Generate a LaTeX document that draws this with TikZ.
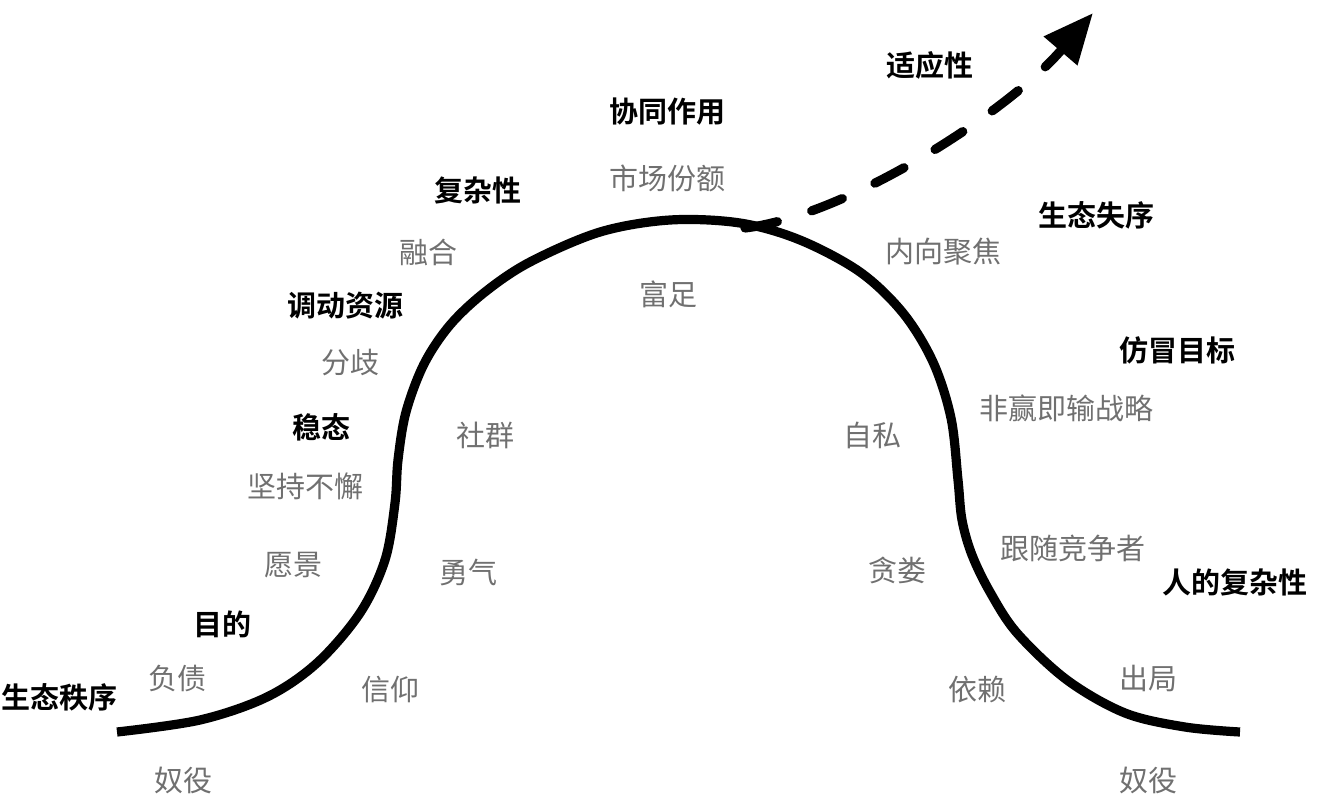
\documentclass[tikz,border=0pt]{standalone}
\usepackage{fontspec}
\newfontfamily\cjk{Noto Sans CJK SC}[BoldFont={Noto Sans CJK SC Bold}]
\usetikzlibrary{arrows.meta}
\definecolor{labelgray}{HTML}{707070}
\begin{document}
\begin{tikzpicture}[x=0.5pt,y=-0.5pt,
  key/.style={inner sep=0pt,font=\cjk\bfseries\fontsize{14.5}{16}\selectfont,text=black},
  sub/.style={inner sep=0pt,font=\cjk\fontsize{14.5}{16}\selectfont,text=labelgray},
  curve/.style={line width=4.6pt,line cap=butt,line join=round},
  trend/.style={line width=4.6pt,line cap=round,dash pattern=on 16.5pt off 18pt,
    -{Triangle[length=25pt,width=21pt]}}]
\useasboundingbox (0,0) rectangle (1324,810);
% main curve
\draw[curve] plot[smooth,tension=0.55] coordinates {
 (117,732) (200,720) (267,697) (317,663) (360,613) (385,560) (395,503)
 (398,460) (406,412) (424,364) (450,325) (485,292) (530,262) (600,232) (670,220)
 (740,223) (800,240) (860,272) (903,313) (933,362) (951,418) (958,480) (962,520)
 (972,555) (990,592) (1017,633) (1067,680) (1125,713) (1185,727) (1240,732)};
% dashed arrow
\coordinate (dstart) at (745,228);
\coordinate (dend) at (1093,13);
\draw[trend] (dstart) .. controls (850,215) and (1010,110) .. (dend);
% labels
\node[key] (k1) at (930,65) {适应性};
\node[key] (k2) at (667,112) {协同作用};
\node[sub] (s1) at (667,178) {市场份额};
\node[key] (k3) at (478,190) {复杂性};
\node[sub] (s2) at (428,252) {融合};
\node[key] (k4) at (1096,215) {生态失序};
\node[sub] (s3) at (943,252) {内向聚焦};
\node[sub] (s4) at (668,294) {富足};
\node[key] (k5) at (345,306) {调动资源};
\node[sub] (s5) at (350,363) {分歧};
\node[key] (k6) at (1177,350) {仿冒目标};
\node[sub] (s6) at (1066,408) {非赢即输战略};
\node[key] (k7) at (321,427) {稳态};
\node[sub] (s7) at (485,435) {社群};
\node[sub] (s8) at (872,435) {自私};
\node[sub] (s9) at (305,486) {坚持不懈};
\node[sub] (s10) at (293,565) {愿景};
\node[sub] (s11) at (468,572) {勇气};
\node[sub] (s12) at (1073,548) {跟随竞争者};
\node[sub] (s13) at (897,570) {贪娄};
\node[key] (k8) at (1235,582) {人的复杂性};
\node[key] (k9) at (222,624) {目的};
\node[sub] (s14) at (177,678) {负债};
\node[sub] (s15) at (390,690) {信仰};
\node[sub] (s16) at (977,690) {依赖};
\node[sub] (s17) at (1148,678) {出局};
\node[key] (k10) at (60,697) {生态秩序};
\node[sub] (s18) at (183,780) {奴役};
\node[sub] (s19) at (1148,780) {奴役};
\end{tikzpicture}
\end{document}
